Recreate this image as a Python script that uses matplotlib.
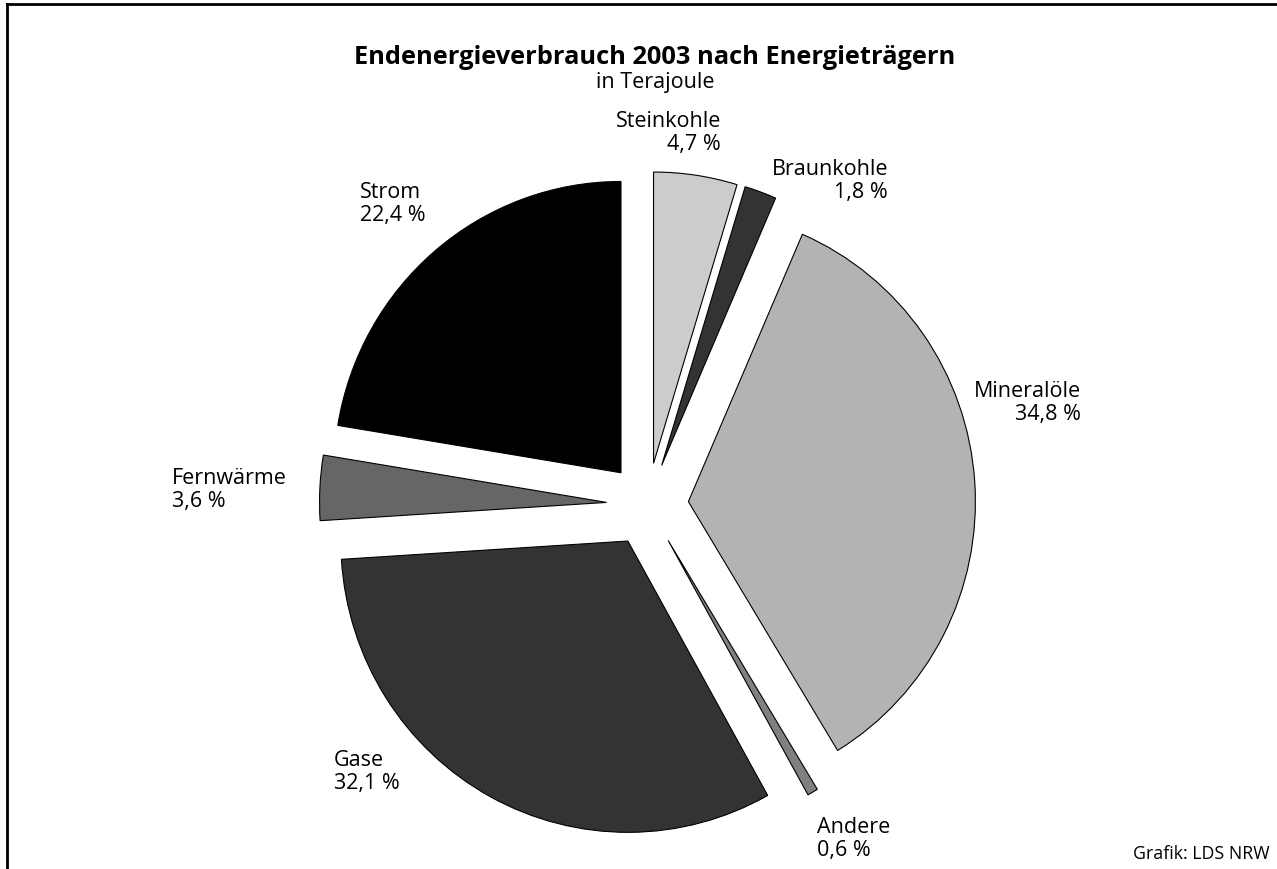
import matplotlib.pyplot as plt

plt.rcParams['font.family'] = ['Open Sans', 'DejaVu Sans']

W, H = 1277, 870

labels = ['Steinkohle', 'Braunkohle', 'Mineralöle', 'Andere', 'Gase', 'Fernwärme', 'Strom']
shares = [4.7, 1.8, 34.8, 0.6, 32.1, 3.6, 22.4]
share_text = ['4,7 %', '1,8 %', '34,8 %', '0,6 %', '32,1 %', '3,6 %', '22,4 %']
colors = ['#cccccc', '#333333', '#b3b3b3', '#808080', '#333333', '#666666', '#000000']

# label anchor (pixel x, baseline y of first line, alignment)
label_pos = [(721, 127, 'right'), (888, 175, 'right'), (1081, 397, 'right'),
             (817, 833, 'left'), (334, 766, 'left'), (172, 484, 'left'),
             (360, 198, 'left')]


def px(fig, x, y, s, **kw):
    """place text at pixel coords (origin top-left)"""
    return fig.text(x / W, 1 - y / H, s, **kw)


fig = plt.figure(figsize=(W / 100, H / 100), dpi=100)
ax = fig.add_axes([0, 0, 1, 1])

# y pixels are slightly stretched in the reference
k = 1.015
cx, cy = 647.5, 505.5
radius = 287
# explode offset is in data units here, not radius fractions
ax.pie(shares, colors=colors, startangle=90, counterclock=False,
       explode=[41] * len(shares), radius=radius,
       center=(cx, (H - cy) / k),
       wedgeprops=dict(edgecolor='black', linewidth=0.8))
ax.set_aspect('auto')
ax.set_xlim(0, W)
ax.set_ylim(0, H / k)
ax.axis('off')

for (x, y, ha), name, pct in zip(label_pos, labels, share_text):
    px(fig, x, y, name, ha=ha, va='baseline', fontsize=15.5)
    px(fig, x, y + 23, pct, ha=ha, va='baseline', fontsize=15.5)

px(fig, 655, 64, 'Endenergieverbrauch 2003 nach Energieträgern',
   ha='center', va='baseline', fontsize=18.3, fontweight='bold')
px(fig, 655, 88, 'in Terajoule', ha='center', va='baseline', fontsize=15.5)
px(fig, 1270, 859, 'Grafik: LDS NRW', ha='right', va='baseline', fontsize=12.8)

# frame: left and top edges only
fig.add_artist(plt.Line2D([7 / W, 7 / W], [0, 1 - 5 / H], color='black',
                          linewidth=2, transform=fig.transFigure))
fig.add_artist(plt.Line2D([7 / W, 1], [1 - 5 / H, 1 - 5 / H], color='black',
                          linewidth=2, transform=fig.transFigure))

fig.savefig('out.png', dpi=100)
